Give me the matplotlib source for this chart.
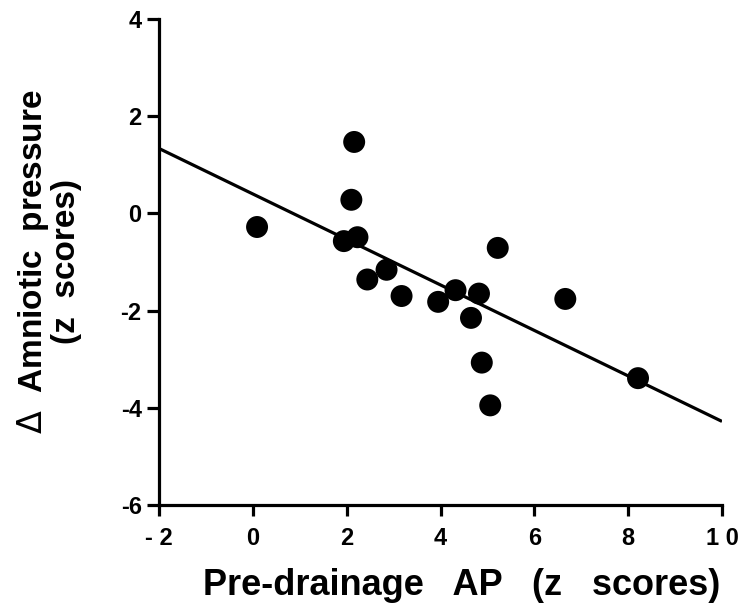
import matplotlib
matplotlib.use("Agg")
import matplotlib.pyplot as plt
import numpy as np

# Data
pre_drainage_ap = [0.09, 2.16, 2.10, 1.94, 2.23, 2.44, 2.85, 5.22, 3.17, 3.95,
                   4.32, 4.82, 4.65, 4.88, 5.06, 6.66, 8.21]
delta_amniotic = [-0.28, 1.47, 0.28, -0.57, -0.49, -1.36, -1.16, -0.71, -1.70, -1.82,
                  -1.58, -1.65, -2.15, -3.07, -3.95, -1.76, -3.39]
fit_slope = -0.468
fit_intercept = 0.40
fit_range = [-2, 10]

x_ticks = [-2, 0, 2, 4, 6, 8, 10]
x_tick_labels = ["- 2", "0", "2", "4", "6", "8", "1 0"]
y_ticks = [-6, -4, -2, 0, 2, 4]
y_tick_labels = ["-6", "-4", "-2", "0", "2", "4"]

plt.rcParams['font.family'] = ['Liberation Sans', 'DejaVu Sans']
plt.rcParams['mathtext.fontset'] = 'dejavusans'

fig = plt.figure(figsize=(7.38, 6.08), dpi=100)
ax = fig.add_axes([159/738, (608-505)/608, (722-159)/738, (505-19)/608])

xf = np.array(fit_range, dtype=float)
ax.plot(xf, fit_slope * xf + fit_intercept, color='black', lw=2.3, solid_capstyle='butt', zorder=2)
ax.scatter(pre_drainage_ap, delta_amniotic, s=250, color='black', edgecolors='none', zorder=3)

ax.set_xlim(-2, 10)
ax.set_ylim(-6, 4)
ax.set_xticks(x_ticks)
ax.set_xticklabels(x_tick_labels)
ax.set_yticks(y_ticks)
ax.set_yticklabels(y_tick_labels)

for s in ['top', 'right']:
    ax.spines[s].set_visible(False)
for s in ['left', 'bottom']:
    ax.spines[s].set_linewidth(2.3)

ax.tick_params(axis='x', direction='out', length=8, width=2.3, pad=8, labelsize=17)
ax.tick_params(axis='y', direction='out', length=8.5, width=2.3, pad=4, labelsize=17)
for lab in ax.get_xticklabels() + ax.get_yticklabels():
    lab.set_fontweight('bold')

ax.set_xlabel("Pre-drainage   AP   (z   scores)", fontsize=26, fontweight='bold', labelpad=13)
ax.xaxis.label.set_x(0.538)
ax.set_ylabel("$\\Delta$  Amniotic  pressure\n(z  scores)", fontsize=24, fontweight='bold',
              labelpad=28, linespacing=1.0)

fig.savefig("out.png", dpi=100)
